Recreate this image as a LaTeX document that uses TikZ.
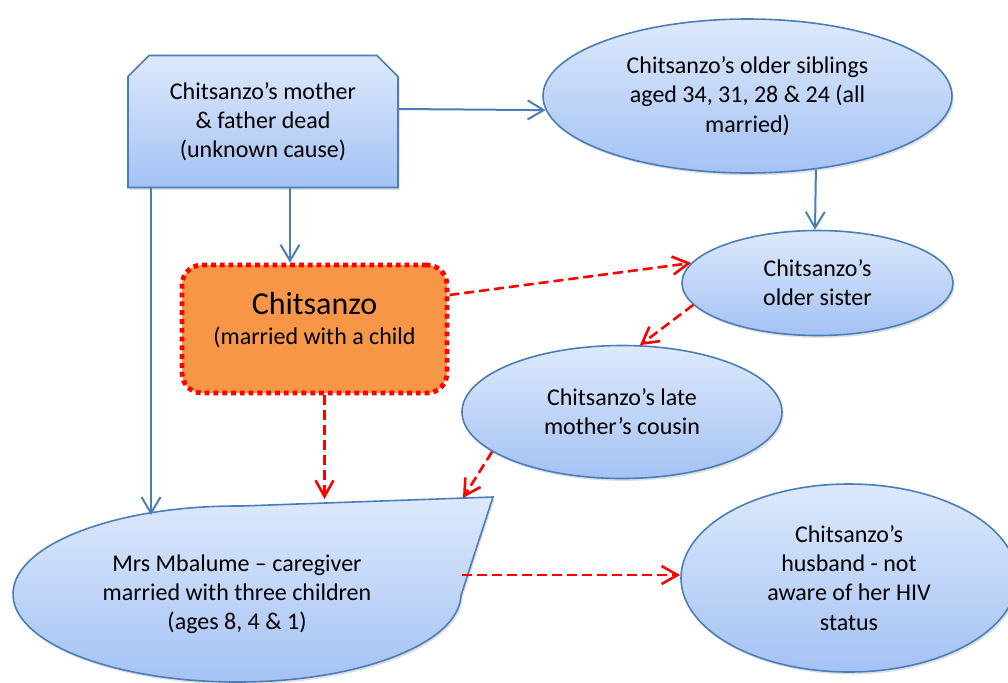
\documentclass[tikz,border=0pt]{standalone}
\usepackage{fontspec}
\setmainfont{Carlito}
\usepackage{tikz}
\usetikzlibrary{shapes,arrows.meta,shadows}

\definecolor{lineBlue}{RGB}{74,126,187}
\definecolor{fillTop}{RGB}{221,233,252}
\definecolor{fillBottom}{RGB}{164,194,244}
\definecolor{fillOrange}{RGB}{247,150,70}

\begin{document}
\begin{tikzpicture}[x=0.5pt,y=-0.5pt,font=\fontsize{12}{14.6}\selectfont]
			\useasboundingbox (0,0) rectangle (1008,682);
			\begin{scope}
				[
					styleBubble/.style={
						draw=lineBlue, line width=0.8pt,
						top color=fillTop, bottom color=fillBottom,
						align=center, inner sep=1pt,
						drop shadow={opacity=0.25, shadow xshift=0.8pt, shadow yshift=-1.2pt}
						},
					styleOval/.style={styleBubble, ellipse},
					styleChit/.style={draw=red, line width=2.4pt, dash pattern=on 2.4pt off 2pt,
						fill=fillOrange, rounded corners=10pt,
						minimum width=132.5pt, minimum height=64pt},
				]
				\node(parents)[styleBubble, chamfered rectangle,
					chamfered rectangle corners={north west,north east},
					chamfered rectangle xsep=5.5pt, chamfered rectangle ysep=5pt,
					minimum width=135pt, minimum height=66pt] at (263,121.5)
					{Chitsanzo’s mother\\\& father dead\\(unknown cause)};
				\node(siblings)[styleOval, minimum width=204.5pt, minimum height=77pt] at (747.5,96)
					{Chitsanzo’s older siblings\\aged 34, 31, 28 \& 24 (all\\married)};
				\node(sister)[styleOval, minimum width=135.5pt, minimum height=52.5pt] at (817.5,283)
					{Chitsanzo’s\\older sister};
				\node(chit)[styleChit] at (314.5,329) {};
				\node(chitText)[align=center] at (314.5,320)
					{{\fontsize{16}{19}\selectfont Chitsanzo}\\(married with a child};
				\node(cousin)[styleOval, minimum width=160pt, minimum height=66.5pt] at (622,412)
					{Chitsanzo’s late\\mother’s cousin};
				\node(mbal)[styleBubble, ellipse callout,
					callout absolute pointer={(493,497)}, callout pointer arc=90,
					minimum width=224pt, minimum height=88pt] at (237,594)
					{Mrs Mbalume -- caregiver\\married with three children\\(ages 8, 4 \& 1)};
				\node(husband)[styleOval, minimum width=168pt, minimum height=94pt] at (849,578)
					{Chitsanzo’s\\husband - not\\aware of her HIV\\status};

				\coordinate(mbalLeft) at (151,515);
				\coordinate(mbalMid) at (324.5,508);
				\coordinate(mbalRight) at (463,498);
			\end{scope}

			\begin{scope}
				[ blueArrow/.style = {draw=lineBlue, line width=1pt,
						-{Straight Barb[length=8pt,width=9.5pt]}},
					redArrow/.style = {draw=red, line width=1.3pt, dash pattern=on 5pt off 2.5pt,
						-{Straight Barb[length=8pt,width=9pt]}}]
				\path
				([yshift=6.25pt]parents.east) edge[blueArrow]		(siblings.184)
				([xshift=13.5pt]parents.south) edge[blueArrow]		([xshift=-12.25pt]chit.north)
				([xshift=-56pt]parents.south) edge[blueArrow]		(mbalLeft)
				(siblings.313) edge[blueArrow]						([xshift=-1.25pt]sister.north)

				([yshift=17pt]chit.east) edge[redArrow]				(sister.171)
				(sister.190) edge[redArrow]							(cousin.75)
				([xshift=5pt]chit.south) edge[redArrow, shorten >=4.5pt]	(mbalMid)
				(cousin.197) edge[redArrow]							(mbalRight)
				([yshift=9.5pt]mbal.east) edge[redArrow]			([yshift=1.5pt]husband.west);

			\end{scope}
		\end{tikzpicture}
\end{document}
